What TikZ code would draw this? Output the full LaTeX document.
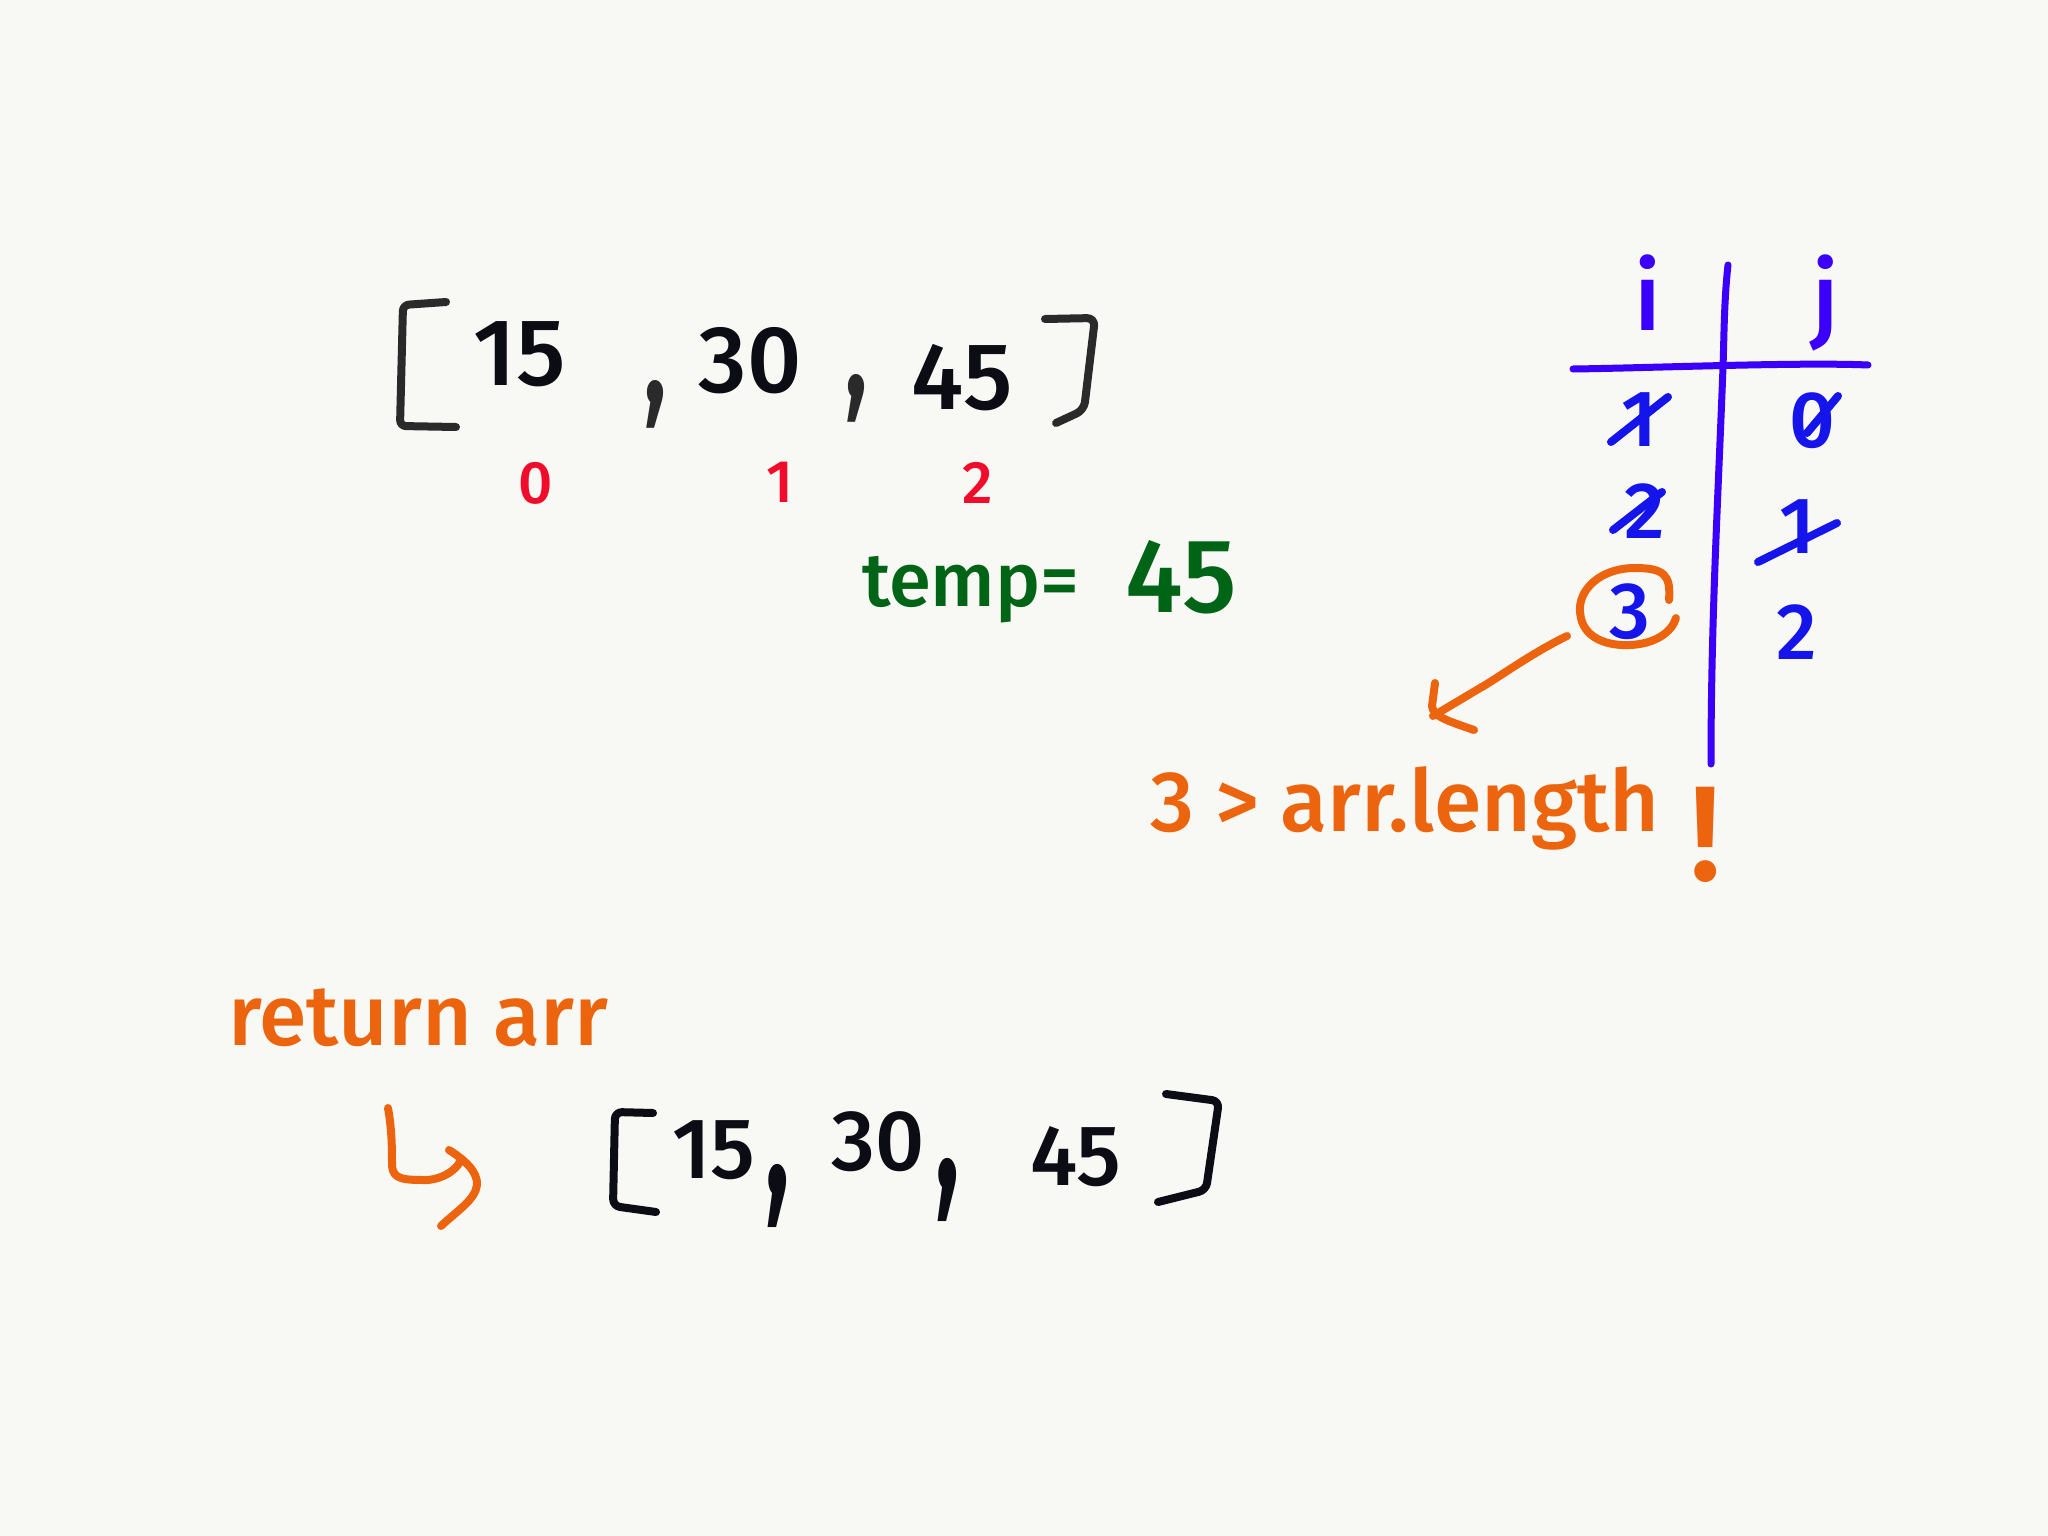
\documentclass[tikz,border=0pt]{standalone}
\usepackage{fontspec}
\setmainfont{Fira Sans Medium}
\definecolor{bgc}{RGB}{248,249,245}
\definecolor{inkk}{RGB}{12,12,20}
\definecolor{brk}{RGB}{42,42,42}
\definecolor{redi}{RGB}{240,12,42}
\definecolor{grn}{RGB}{0,100,22}
\definecolor{blu}{RGB}{58,0,250}
\definecolor{blu2}{RGB}{20,20,235}
\definecolor{org}{RGB}{236,100,14}
\newcommand\fsz[1]{\fontsize{#1}{#1}\selectfont}
\begin{document}
\begin{tikzpicture}[x=1pt,y=-1pt,
  ink/.style={line width=8pt,line cap=round,line join=round},
  lbl/.style={inner sep=0pt,outer sep=0pt},
  bignum/.style={lbl,text=inkk,font=\fsz{95}},
  smallnum/.style={lbl,text=inkk,font=\fsz{86}},
  commabig/.style={lbl,text=brk,font=\fsz{100},yscale=1.5},
  commabot/.style={lbl,text=inkk,font=\fsz{110},yscale=1.8},
  idx/.style={lbl,text=redi,font=\fsz{60}},
  tabhead/.style={lbl,text=blu,font=\fsz{95}},
  tabnum/.style={lbl,text=blu2,font=\fsz{80}},
  orgtxt/.style={lbl,text=org,font=\fsz{86}},
]
\fill[bgc] (0,0) rectangle (2048,1536);
\useasboundingbox (0,0) rectangle (2048,1536);

% ---------- top array ----------
\draw[ink,brk,rounded corners=6pt] (446,302) -- (403,305) -- (400,426) -- (456,427);
\draw[ink,brk,rounded corners=8pt] (1045,319) -- (1095,318) -- (1084,410) -- (1056,423);
\node[bignum] (t15) at (520,354) {15};
\node[commabig] (tc1) at (655,404) {,};
\node[bignum] (t30) at (750,361) {30};
\node[commabig] (tc2) at (856,398) {,};
\node[bignum] (t45) at (962,378) {45};

% indices
\node[idx] (i0) at (536,483) {0};
\node[idx] (i1) at (780,482) {1};
\node[idx] (i2) at (978,483) {2};

% temp
\node[lbl,text=grn,font=\fsz{76},anchor=west] (temp) at (862,590) {temp=};
\node[lbl,text=grn,font=\fsz{105}] (temp45) at (1181,577) {45};

% ---------- table ----------
\draw[line width=7pt,line cap=round,blu] (1573,369) .. controls (1650,368) and (1800,362) .. (1868,365);
\draw[line width=7pt,line cap=round,blu] (1728,265) .. controls (1724,300) and (1724,340) .. (1723,367)
   .. controls (1718,500) and (1711,620) .. (1711,764);
\node[tabhead] (hi) at (1648,293) {i};
\node[tabhead] (hj) at (1826,303) {j};

\node[tabnum] (r1i) at (1639,420) {1};
\draw[ink,blu2] (1611,442) -- (1668,397);
\node[tabnum] (r1j) at (1812,421) {0};
\draw[ink,blu2] (1807,433) -- (1838,396);
\node[tabnum] (r2i) at (1645,511) {2};
\draw[ink,blu2] (1613,530) -- (1662,492);
\node[tabnum] (r2j) at (1797,527) {1};
\draw[ink,blu2] (1758,562) -- (1837,523);
\node[tabnum] (r3i) at (1630,612) {3};
\node[tabnum] (r3j) at (1797,632) {2};

% circle around 3
\draw[ink,org] (1669,600) .. controls (1671,575) and (1664,568) .. (1635,568)
   .. controls (1600,568) and (1578,590) .. (1580,612)
   .. controls (1582,640) and (1610,646) .. (1630,645)
   .. controls (1655,644) and (1672,632) .. (1676,618);

% orange arrow
\coordinate (arS) at (1567,636);
\coordinate (arE) at (1433,716);
\draw[ink,org] (arS) .. controls (1530,654) and (1495,680) .. (1480,688) .. controls (1460,700) .. (arE);
\draw[ink,org] (1435,683) -- (1432,706) .. controls (1433,716) and (1445,720) .. (1474,730);

\node[orgtxt,anchor=west] (cond) at (1150,808) {3 > arr.length};
\node[lbl,text=org,font=\fsz{135}] (bang) at (1706,835) {!};

% ---------- return ----------
\node[orgtxt,anchor=west] (ret) at (228,1018) {return arr};
\coordinate (rtS) at (388,1108);
\coordinate (rtE) at (460,1162);
\draw[ink,org] (rtS) .. controls (392,1130) and (392,1150) .. (392,1166)
   .. controls (393,1180) and (405,1180) .. (428,1180) .. controls (445,1178) and (455,1170) .. (rtE);
\draw[ink,org] (449,1150) .. controls (465,1160) and (478,1172) .. (477,1185)
   .. controls (475,1200) and (458,1210) .. (441,1226);

% bottom array
\draw[ink,inkk,rounded corners=7pt] (653,1113) -- (615,1112) -- (613,1206) -- (656,1212);
\draw[ink,inkk,rounded corners=7pt] (1166,1094) -- (1219,1101) -- (1206,1190) -- (1158,1202);
\node[smallnum] (b15) at (714,1150) {15};
\node[commabot] (bc1) at (778,1196) {,};
\node[smallnum] (b30) at (878,1142) {30};
\node[commabot] (bc2) at (948,1190) {,};
\node[smallnum] (b45) at (1076,1157) {45};
\end{tikzpicture}
\end{document}
